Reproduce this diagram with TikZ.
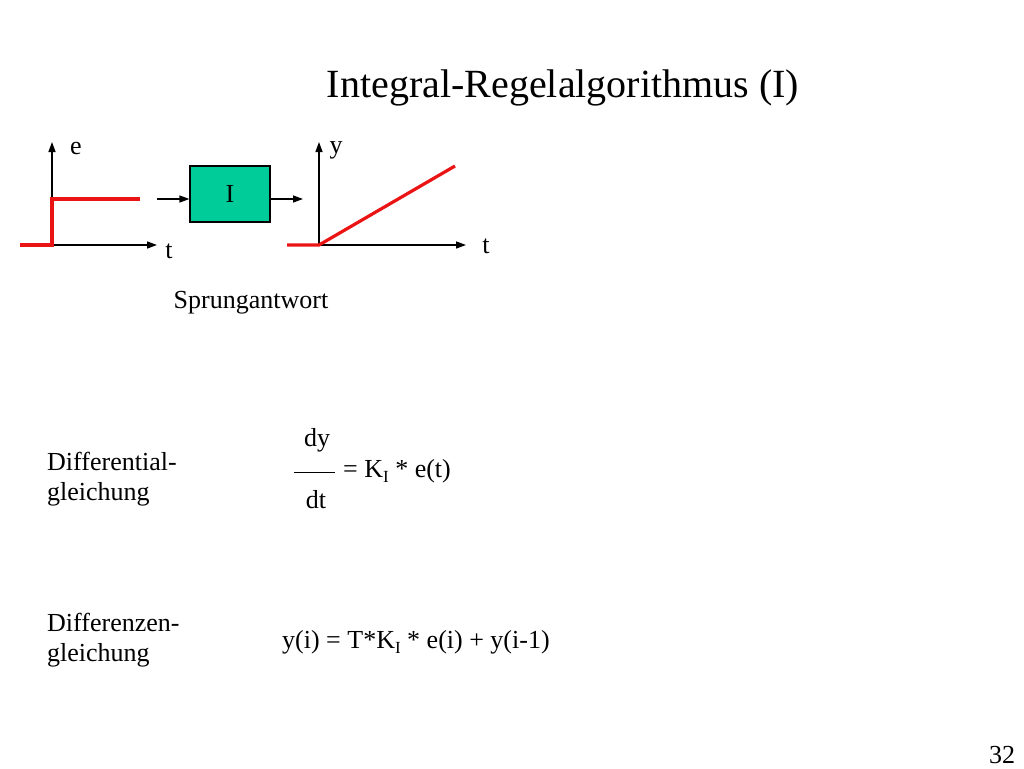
\documentclass[tikz,border=0pt]{standalone}
\usepackage{fontspec}
\setmainfont{Liberation Serif}
\usetikzlibrary{arrows.meta}
\definecolor{blkgreen}{RGB}{0,204,153}
\definecolor{sigred}{RGB}{235,20,20}
\newcommand{\subI}{\raisebox{-0.45ex}{\fontsize{17}{17}\selectfont I}}
\begin{document}
\begin{tikzpicture}[x=1pt,y=-1pt,
  axis/.style={-{Triangle[length=10pt,width=7pt]}, line width=1.3pt},
  sig/.style={sigred, line width=3.2pt},
  txt/.style={inner sep=0pt, font=\fontsize{26}{30}\selectfont},
  blk/.style={draw, line width=1.2pt, fill=blkgreen, minimum width=80pt, minimum height=56pt, font=\fontsize{26}{30}\selectfont}]
\useasboundingbox (0,0) rectangle (1024,768);
\fill[white] (0,0) rectangle (1024,768);
\node[inner sep=0pt, font=\fontsize{40}{46}\selectfont] (title) at (563,88) {Integral-Regelalgorithmus (I)};
% left axes
\coordinate (o1) at (52,245);
\coordinate (y1) at (52,142);
\coordinate (x1) at (157,245);
\draw[axis] (o1) -- (y1);
\draw[axis] (o1) -- (x1);
\coordinate (s0) at (20,245);
\coordinate (s1) at (52,199);
\coordinate (s2) at (140,199);
\draw[sig] (s0) -- (o1) -- (s1) -- (s2);
\node[txt] (le) at (76,149) {e};
\node[txt] (lt1) at (169,251) {t};
% block
\node[blk] (I) at (230,194) {I};
\coordinate (in0) at (157,199);
\draw[axis] (in0) -- (in0 -| I.west);
\coordinate (out1) at (303,199);
\draw[axis] (I.east |- out1) -- (out1);
% right axes
\coordinate (o2) at (319,245);
\coordinate (y2) at (319,142);
\coordinate (x2) at (466,245);
\draw[axis] (o2) -- (y2);
\draw[axis] (o2) -- (x2);
\coordinate (r0) at (287,245);
\coordinate (r1) at (455,166);
\draw[sig] (r0) -- (o2) -- (r1);
\node[txt] (ly) at (336,150) {y};
\node[txt] (lt2) at (486,246) {t};
\node[txt] (spr) at (251,303) {Sprungantwort};
% differential equation
\node[txt, anchor=west, align=left] (dgl) at (47,479) {Differential-\\gleichung};
\node[txt] (dy) at (317,440) {dy};
\node[txt] (dt) at (316,500) {dt};
\coordinate (b0) at (294,472);
\coordinate (b1) at (335,472);
\draw[line width=1pt] (b0) -- (b1);
\node[txt, anchor=west] (rhs) at (343,471) {= K\subI{} * e(t)};
% difference equation
\node[txt, anchor=west, align=left] (dzg) at (47,640) {Differenzen-\\gleichung};
\node[txt, anchor=west] (deq) at (282,642) {y(i) = T*K\subI{} * e(i) + y(i-1)};
\node[txt] (pg) at (1002,755) {32};
\end{tikzpicture}
\end{document}
